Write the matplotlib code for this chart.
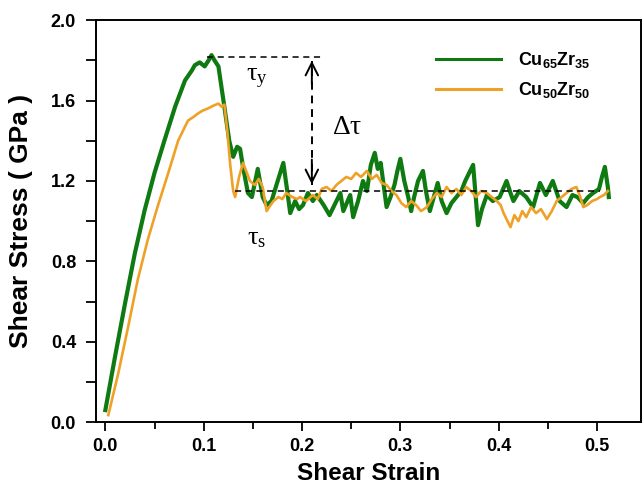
import matplotlib
matplotlib.use('Agg')
import matplotlib.pyplot as plt
from matplotlib.ticker import MultipleLocator, FormatStrFormatter

plt.rcParams['font.family'] = ['Liberation Sans', 'DejaVu Sans']
plt.rcParams['mathtext.fontset'] = 'custom'
plt.rcParams['mathtext.rm'] = 'Liberation Serif'
plt.rcParams['mathtext.it'] = 'Liberation Serif:italic'
plt.rcParams['mathtext.bf'] = 'Liberation Sans:bold'

# --- data ---
cu65_strain = [0.000, 0.010, 0.020, 0.030, 0.040, 0.050, 0.060, 0.071, 0.081, 0.088,
               0.091, 0.096, 0.101, 0.105, 0.108, 0.111, 0.115, 0.121, 0.126, 0.130,
               0.134, 0.137, 0.140, 0.145, 0.149, 0.155, 0.160, 0.164, 0.169, 0.174,
               0.181, 0.185, 0.188, 0.193, 0.197, 0.201, 0.206, 0.211, 0.215, 0.222,
               0.228, 0.234, 0.239, 0.242, 0.249, 0.252, 0.257, 0.262, 0.266, 0.270,
               0.274, 0.277, 0.280, 0.283, 0.286, 0.290, 0.294, 0.297, 0.300, 0.304,
               0.308, 0.311, 0.314, 0.318, 0.323, 0.326, 0.330, 0.334, 0.338, 0.342,
               0.347, 0.352, 0.357, 0.362, 0.366, 0.371, 0.374, 0.377, 0.379, 0.383,
               0.388, 0.394, 0.401, 0.408, 0.412, 0.415, 0.421, 0.428, 0.435, 0.442,
               0.448, 0.455, 0.462, 0.469, 0.475, 0.480, 0.486, 0.491, 0.496, 0.502,
               0.505, 0.508, 0.511, 0.512]
cu65_stress = [0.06, 0.33, 0.59, 0.84, 1.055, 1.24, 1.40, 1.57, 1.70, 1.75,
               1.776, 1.79, 1.77, 1.80, 1.826, 1.80, 1.77, 1.57, 1.40, 1.32,
               1.37, 1.36, 1.27, 1.14, 1.12, 1.26, 1.12, 1.08, 1.10, 1.18,
               1.29, 1.15, 1.04, 1.10, 1.06, 1.08, 1.14, 1.10, 1.13, 1.08,
               1.03, 1.09, 1.14, 1.05, 1.13, 1.02, 1.10, 1.20, 1.15, 1.28,
               1.34, 1.26, 1.29, 1.18, 1.07, 1.12, 1.18, 1.25, 1.31, 1.20,
               1.12, 1.05, 1.12, 1.20, 1.25, 1.15, 1.05, 1.12, 1.19, 1.10,
               1.04, 1.09, 1.12, 1.15, 1.20, 1.25, 1.28, 1.10, 0.98, 1.06,
               1.13, 1.10, 1.12, 1.20, 1.14, 1.10, 1.15, 1.12, 1.07, 1.19,
               1.13, 1.20, 1.10, 1.07, 1.13, 1.12, 1.09, 1.12, 1.14, 1.16,
               1.22, 1.27, 1.17, 1.12]

cu50_strain = [0.003, 0.013, 0.023, 0.033, 0.043, 0.053, 0.064, 0.074, 0.084, 0.090,
               0.094, 0.099, 0.104, 0.110, 0.115, 0.118, 0.121, 0.124, 0.127, 0.130,
               0.132, 0.136, 0.140, 0.144, 0.147, 0.152, 0.156, 0.160, 0.164, 0.168,
               0.171, 0.176, 0.180, 0.184, 0.190, 0.195, 0.198, 0.204, 0.211, 0.216,
               0.220, 0.225, 0.230, 0.235, 0.240, 0.245, 0.250, 0.255, 0.260, 0.266,
               0.271, 0.276, 0.281, 0.286, 0.291, 0.296, 0.301, 0.306, 0.311, 0.316,
               0.321, 0.327, 0.332, 0.337, 0.342, 0.347, 0.352, 0.357, 0.362, 0.367,
               0.372, 0.377, 0.382, 0.388, 0.393, 0.398, 0.402, 0.405, 0.409, 0.412,
               0.416, 0.420, 0.424, 0.428, 0.433, 0.438, 0.443, 0.449, 0.454, 0.459,
               0.464, 0.469, 0.474, 0.479, 0.483, 0.486, 0.490, 0.495, 0.500, 0.503,
               0.507, 0.511]
cu50_stress = [0.035, 0.24, 0.47, 0.71, 0.905, 1.07, 1.24, 1.40, 1.50, 1.52,
               1.535, 1.55, 1.56, 1.575, 1.585, 1.57, 1.58, 1.45, 1.28, 1.15,
               1.12, 1.22, 1.29, 1.24, 1.20, 1.18, 1.21, 1.17, 1.05, 1.08,
               1.10, 1.12, 1.11, 1.14, 1.12, 1.11, 1.12, 1.10, 1.13, 1.11,
               1.16, 1.17, 1.15, 1.18, 1.20, 1.22, 1.21, 1.24, 1.22, 1.25,
               1.21, 1.23, 1.19, 1.18, 1.15, 1.13, 1.09, 1.07, 1.10, 1.08,
               1.05, 1.07, 1.11, 1.14, 1.12, 1.17, 1.14, 1.16, 1.13, 1.17,
               1.15, 1.12, 1.15, 1.14, 1.12, 1.10, 1.08, 1.04, 1.00, 0.97,
               1.03, 1.00, 1.05, 1.02, 1.07, 1.04, 1.06, 1.01, 1.05, 1.10,
               1.12, 1.14, 1.16, 1.17, 1.12, 1.07, 1.08, 1.10, 1.11, 1.12,
               1.13, 1.15]

tau_y = 1.817      # yield stress level
tau_s = 1.15       # flow stress level
yield_span = (0.103, 0.221)
flow_span = (0.132, 0.503)
arrow_x = 0.21

green = '#0f7a12'
orange = '#efa127'

fig = plt.figure(figsize=(6.43, 4.92), dpi=100)
ax = fig.add_axes([0.149, 0.142, 0.848, 0.817])

ax.plot(cu65_strain, cu65_stress, color=green, lw=3.0, label=r'$\mathbf{Cu_{65}Zr_{35}}$')
ax.plot(cu50_strain, cu50_stress, color=orange, lw=1.9, label=r'$\mathbf{Cu_{50}Zr_{50}}$')

# reference lines and the double arrow
dash = (0, (4, 3))
ax.plot(yield_span, [tau_y, tau_y], color='black', ls=dash, lw=1.1)
ax.plot(flow_span, [tau_s, tau_s], color='black', ls=dash, lw=1.1)
ax.plot([arrow_x, arrow_x], [tau_s + 0.03, tau_y - 0.02], color='black', ls=dash, lw=1.4)
head = '->,head_length=0.9,head_width=0.45'
ax.annotate('', xy=(arrow_x, tau_y - 0.005), xytext=(arrow_x, tau_y - 0.15),
            arrowprops=dict(arrowstyle=head, lw=1.4, color='black'))
ax.annotate('', xy=(arrow_x, tau_s + 0.02), xytext=(arrow_x, tau_s + 0.17),
            arrowprops=dict(arrowstyle=head, lw=1.4, color='black'))

ax.text(0.154, 1.71, r'$\mathrm{\tau}_\mathrm{y}$', fontsize=19, ha='center', va='center')
ax.text(0.154, 0.915, r'$\mathrm{\tau}_\mathrm{s}$', fontsize=19, ha='center', va='center')
ax.text(0.246, 1.47, r'$\mathrm{\Delta\tau}$', fontsize=20, ha='center', va='center')

ax.set_xlim(-0.0097, 0.5448)
ax.set_ylim(0, 2.0)
ax.xaxis.set_major_locator(MultipleLocator(0.1))
ax.xaxis.set_minor_locator(MultipleLocator(0.05))
ax.yaxis.set_major_locator(MultipleLocator(0.4))
ax.yaxis.set_minor_locator(MultipleLocator(0.2))
ax.xaxis.set_major_formatter(FormatStrFormatter('%.1f'))
ax.yaxis.set_major_formatter(FormatStrFormatter('%.1f'))
ax.tick_params(which='major', direction='out', length=6.5, width=1.3, labelsize=13, pad=5)
ax.tick_params(which='minor', direction='out', length=5, width=1.3)
ax.tick_params(axis='y', which='both', length=7.2)
ax.tick_params(axis='y', which='major', pad=7)
for lbl in ax.get_xticklabels() + ax.get_yticklabels():
    lbl.set_fontweight('bold')
for sp in ax.spines.values():
    sp.set_linewidth(1.4)

ax.set_xlabel('Shear Strain', fontsize=17.5, fontweight='bold', labelpad=5)
ax.set_ylabel('Shear Stress ( GPa )', fontsize=19, fontweight='bold', labelpad=13)

leg = ax.legend(loc='upper left', bbox_to_anchor=(0.595, 0.965), frameon=False, fontsize=13,
                handlelength=3.6, handletextpad=0.9, labelspacing=0.55)
for h in leg.get_lines():
    h.set_linewidth(2.2)

fig.savefig('out.png', dpi=100)
